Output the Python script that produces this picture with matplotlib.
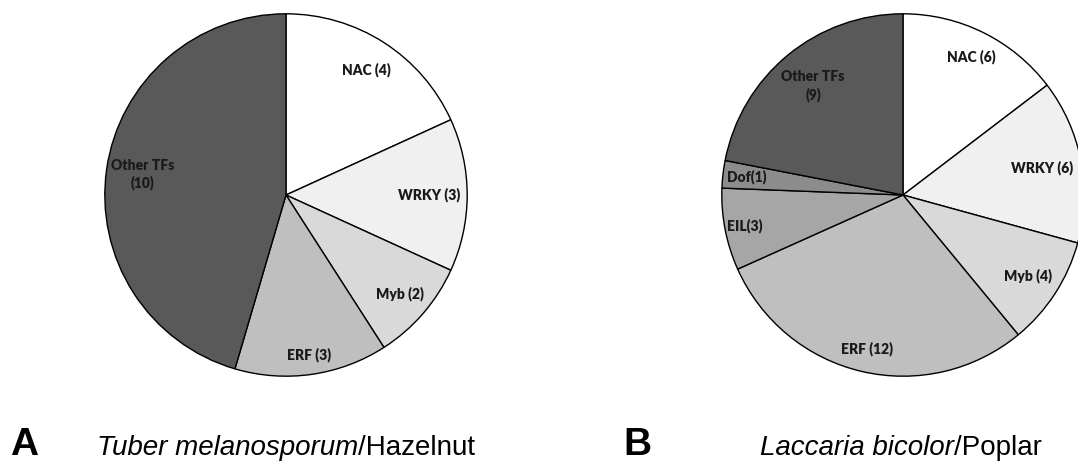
import matplotlib.pyplot as plt
import numpy as np

# panel A: Tuber melanosporum / Hazelnut
labels_a = ['NAC (4)', 'WRKY (3)', 'Myb (2)', 'ERF (3)', 'Other TFs\n(10)']
counts_a = [4, 3, 2, 3, 10]
colors_a = ['#ffffff', '#f0f0f0', '#d9d9d9', '#bfbfbf', '#595959']

# panel B: Laccaria bicolor / Poplar
labels_b = ['NAC (6)', 'WRKY (6)', 'Myb (4)', 'ERF (12)', 'EIL(3)', 'Dof(1)', 'Other TFs\n(9)']
counts_b = [6, 6, 4, 12, 3, 1, 9]
colors_b = ['#ffffff', '#f0f0f0', '#d9d9d9', '#bfbfbf', '#a6a6a6', '#8c8c8c', '#595959']

# radial position of each label (fraction of radius)
dist_a = [0.82, 0.79, 0.83, 0.89, 0.80]
dist_b = [0.85, 0.78, 0.82, 0.87, 0.89, 0.87, 0.78]

W, H = 1078, 462
fig = plt.figure(figsize=(W / 100, H / 100), dpi=100)
R = 183


def pie_axes(cx, cy):
    return fig.add_axes([(cx - R) / W, (H - cy - R) / H, 2 * R / W, 2 * R / H])


def draw_pie(ax, counts, labels, colors, dists):
    wedges, _ = ax.pie(counts, colors=colors, startangle=90, counterclock=False,
                       wedgeprops=dict(edgecolor='black', linewidth=1.0))
    for w, lab, d in zip(wedges, labels, dists):
        ang = np.deg2rad((w.theta1 + w.theta2) / 2)
        ax.text(d * np.cos(ang), d * np.sin(ang), lab, ha='center', va='center',
                fontsize=10, fontweight='heavy', family='Lato', color='#1a1a1a',
                linespacing=1.3)
    ax.set_xlim(-1.01, 1.01)
    ax.set_ylim(-1.01, 1.01)
    ax.set_aspect('equal')
    ax.axis('off')


ax1 = pie_axes(286, 195)
draw_pie(ax1, counts_a, labels_a, colors_a, dist_a)
ax2 = pie_axes(903, 195)
draw_pie(ax2, counts_b, labels_b, colors_b, dist_b)

# bottom captions
base_y = 1 - 455 / H
fig.text(24 / W, base_y, 'A', ha='center', va='baseline', fontsize=28,
         fontweight='bold', family='Liberation Sans')
fig.text(637 / W, base_y, 'B', ha='center', va='baseline', fontsize=28,
         fontweight='bold', family='Liberation Sans')

renderer = fig.canvas.get_renderer()


def caption(x, italic, plain):
    t = fig.text(x / W, base_y, italic, ha='left', va='baseline', fontsize=20,
                 style='italic', family='Liberation Sans')
    bb = t.get_window_extent(renderer=renderer)
    fig.text(bb.x1 / W, base_y, plain, ha='left', va='baseline', fontsize=20,
             family='Liberation Sans')


caption(97, 'Tuber melanosporum', '/Hazelnut')
caption(760, 'Laccaria bicolor', '/Poplar')

plt.savefig('out.png', dpi=100)
